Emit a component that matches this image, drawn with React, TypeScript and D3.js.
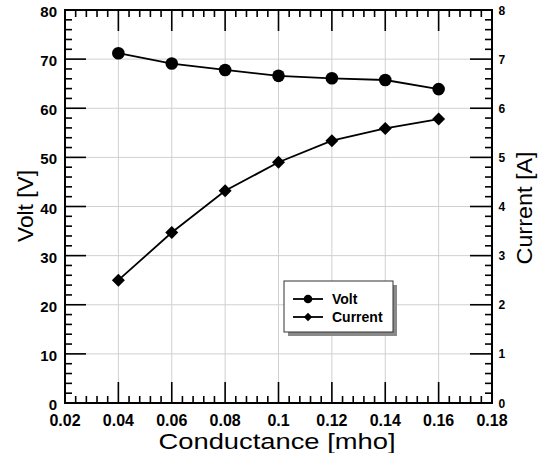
import React from "react";
import * as d3 from "d3";

const conductance = [0.04, 0.06, 0.08, 0.1, 0.12, 0.14, 0.16];
const volt = [71.2, 69.1, 67.8, 66.6, 66.1, 65.75, 63.9];
const current = [2.5, 3.47, 4.32, 4.9, 5.34, 5.59, 5.78];
const xTickLabels = ["0.02", "0.04", "0.06", "0.08", "0.1", "0.12", "0.14", "0.16", "0.18"];
const legendItems = ["Volt", "Current"];

const W = 542, H = 453;
const L = 65, R = 492, T = 10, B = 403;
const FONT = "'Liberation Sans', Arial, Helvetica, sans-serif";

function subdivide(major: number[], n: number): number[] {
  const out: number[] = [];
  for (let i = 0; i < major.length - 1; i++) {
    const step = (major[i + 1] - major[i]) / n;
    for (let k = 1; k < n; k++) out.push(major[i] + k * step);
  }
  return out;
}

export default function App() {
  const x = d3.scaleLinear().domain([0.02, 0.18]).range([L, R]);
  const y = d3.scaleLinear().domain([0, 80]).range([B, T]);
  const y2 = d3.scaleLinear().domain([0, 8]).range([B, T]);

  const xMajor = x.ticks(8);
  const yMajor = y.ticks(8);
  const y2Major = y2.ticks(8);
  const xMinor = subdivide(xMajor, 5);
  const yMinor = subdivide(yMajor, 5);
  const y2Minor = subdivide(y2Major, 5);

  const lineV = d3.line<number>().x((_, i) => x(conductance[i])).y((d) => y(d));
  const lineC = d3.line<number>().x((_, i) => x(conductance[i])).y((d) => y2(d));
  const diamond = (cx: number, cy: number, r: number) =>
    `M${cx},${cy - r}L${cx + r},${cy}L${cx},${cy + r}L${cx - r},${cy}Z`;

  const MAJ = 21, MIN = 7;
  const TK = "#000000";
  const TW = 1.6;
  const GRID = "#d0d0d0";

  const lx = 284, ly = 281, lw = 109, lh = 51;

  return (
    <svg width={W} height={H} style={{ position: "absolute", left: 0, top: 0 }}>
      <rect x={0} y={0} width={W} height={H} fill="#ffffff" />
      <g stroke={GRID} strokeWidth={1}>
        {xMajor.filter((t) => t > 0.021 && t < 0.179).map((t, i) => (
          <line key={"gx" + i} x1={x(t)} x2={x(t)} y1={T} y2={B} />
        ))}
        {yMajor.filter((t) => t > 0 && t < 80).map((t, i) => (
          <line key={"gy" + i} x1={L} x2={R} y1={y(t)} y2={y(t)} />
        ))}
      </g>
      <rect x={L} y={T} width={R - L} height={B - T} fill="none" stroke="#000" strokeWidth={2} />
      <g stroke={TK} strokeWidth={TW}>
        {xMajor.map((t, i) => (
          <line key={"xbM" + i} x1={x(t)} x2={x(t)} y1={B} y2={B - MAJ} />
        ))}
        {xMajor.map((t, i) => (
          <line key={"xtM" + i} x1={x(t)} x2={x(t)} y1={T} y2={T + MAJ} />
        ))}
        {xMinor.map((t, i) => (
          <line key={"xbm" + i} x1={x(t)} x2={x(t)} y1={B} y2={B - MIN} />
        ))}
        {xMinor.map((t, i) => (
          <line key={"xtm" + i} x1={x(t)} x2={x(t)} y1={T} y2={T + MIN} />
        ))}
        {yMajor.map((t, i) => (
          <line key={"ylM" + i} x1={L} x2={L + MAJ} y1={y(t)} y2={y(t)} />
        ))}
        {yMinor.map((t, i) => (
          <line key={"ylm" + i} x1={L} x2={L + MIN} y1={y(t)} y2={y(t)} />
        ))}
        {y2Major.map((t, i) => (
          <line key={"yrM" + i} x1={R} x2={R - MAJ - 1} y1={y2(t)} y2={y2(t)} />
        ))}
        {y2Minor.map((t, i) => (
          <line key={"yrm" + i} x1={R} x2={R - MIN} y1={y2(t)} y2={y2(t)} />
        ))}
      </g>
      {xMajor.map((t, i) => (
        <text key={"xl" + i} x={x(t)} y={426} textAnchor="middle" fontSize={16} fontWeight="bold" fill="#000" fontFamily={FONT}>
          {xTickLabels[i]}
        </text>
      ))}
      {yMajor.map((t) => (
        <text key={"yl" + t} x={57} y={y(t) + 7} textAnchor="end" fontSize={15} fontWeight="bold" fill="#000" fontFamily={FONT}>
          {t}
        </text>
      ))}
      {y2Major.map((t) => (
        <text key={"y2l" + t} x={498.5} y={y2(t) + 4.5} textAnchor="start" fontSize={12} fontWeight="bold" fill="#000" fontFamily={FONT}>
          {t}
        </text>
      ))}
      <text x={277} y={449} textAnchor="middle" fontSize={22} fill="#000" fontFamily={FONT} textLength={237} lengthAdjust="spacingAndGlyphs">
        Conductance [mho]
      </text>
      <text transform="translate(33,206) rotate(-90)" textAnchor="middle" fontSize={22} fill="#000" fontFamily={FONT} textLength={72} lengthAdjust="spacingAndGlyphs">
        Volt [V]
      </text>
      <text transform="translate(532,208) rotate(-90)" textAnchor="middle" fontSize={22} fill="#000" fontFamily={FONT} textLength={113} lengthAdjust="spacingAndGlyphs">
        Current [A]
      </text>
      <path d={lineV(volt) || ""} fill="none" stroke="#000" strokeWidth={1.8} />
      <path d={lineC(current) || ""} fill="none" stroke="#000" strokeWidth={1.8} />
      {volt.map((v, i) => (
        <circle key={"cv" + i} cx={x(conductance[i])} cy={y(v)} r={6.3} fill="#000" />
      ))}
      {current.map((c, i) => (
        <path key={"dc" + i} d={diamond(x(conductance[i]), y2(c), 6.5)} fill="#000" />
      ))}
      <rect x={lx + 4} y={ly + 4} width={lw} height={lh} fill="#8a8a8a" />
      <rect x={lx} y={ly} width={lw} height={lh} fill="#ffffff" stroke="#333333" strokeWidth={1} />
      {legendItems.map((name, i) => {
        const cy = ly + 18 + i * 18;
        return (
          <g key={"lg" + name}>
            <line x1={lx + 9} x2={lx + 39} y1={cy} y2={cy} stroke="#000" strokeWidth={1.8} />
            {i === 0 ? (
              <circle cx={lx + 24} cy={cy} r={4.3} fill="#000" />
            ) : (
              <path d={diamond(lx + 24, cy, 4.2)} fill="#000" />
            )}
            <text x={lx + 48} y={cy + 5} fontSize={14} fontWeight="bold" fill="#000" fontFamily={FONT}>
              {name}
            </text>
          </g>
        );
      })}
    </svg>
  );
}
